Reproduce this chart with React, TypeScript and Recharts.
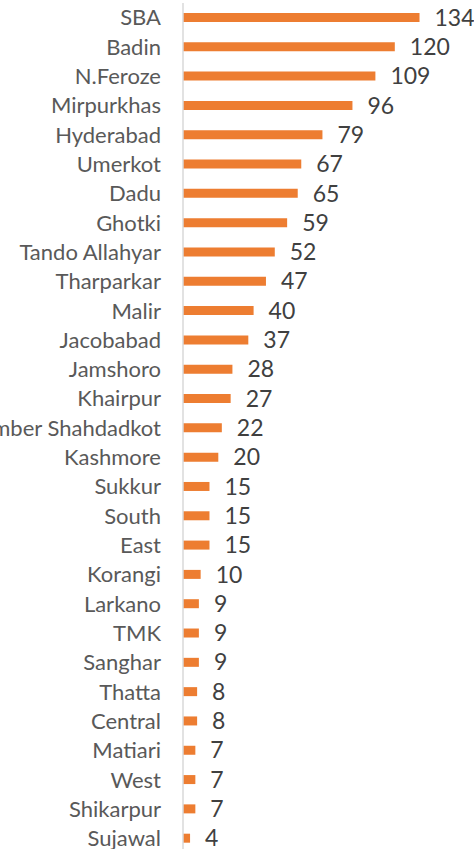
import { BarChart, Bar, XAxis, YAxis, LabelList } from 'recharts';

const districts = [
    'SBA', 'Badin', 'N.Feroze', 'Mirpurkhas', 'Hyderabad', 'Umerkot', 'Dadu', 'Ghotki',
    'Tando Allahyar', 'Tharparkar', 'Malir', 'Jacobabad', 'Jamshoro', 'Khairpur',
    'Qamber Shahdadkot', 'Kashmore', 'Sukkur', 'South', 'East', 'Korangi', 'Larkano',
    'TMK', 'Sanghar', 'Thatta', 'Central', 'Matiari', 'West', 'Shikarpur', 'Sujawal',
];

const counts = [
    134, 120, 109, 96, 79, 67, 65, 59, 52, 47, 40, 37, 28, 27, 22, 20, 15, 15, 15, 10,
    9, 9, 9, 8, 8, 7, 7, 7, 4,
];

const BAR_COLOR = '#ED7D31';

export default function App() {
    const chartData = districts.map((name, i) => ({ name, value: counts[i] }));

    return (
        <div style={{ position: 'absolute', left: 0, top: 0, width: 474, height: 849, overflow: 'hidden', background: '#fff' }}>
            <BarChart
                width={474}
                height={853}
                data={chartData}
                layout="vertical"
                margin={{ top: 3, right: 28, bottom: 0, left: 0 }}
                style={{ fontFamily: 'Lato, sans-serif' }}
            >
                <XAxis type="number" domain={[0, 149]} hide />
                <YAxis
                    type="category"
                    dataKey="name"
                    width={183}
                    interval={0}
                    tickLine={false}
                    axisLine={{ stroke: '#d9d9d9', strokeWidth: 1.5 }}
                    tickSize={6}
                    tickMargin={16}
                    tick={{ fill: '#595959', fontSize: 22 }}
                />
                <Bar dataKey="value" fill={BAR_COLOR} barSize={9} isAnimationActive={false}>
                    <LabelList dataKey="value" position="right" offset={15} fill="#404040" fontSize={23} />
                </Bar>
            </BarChart>
        </div>
    );
}
